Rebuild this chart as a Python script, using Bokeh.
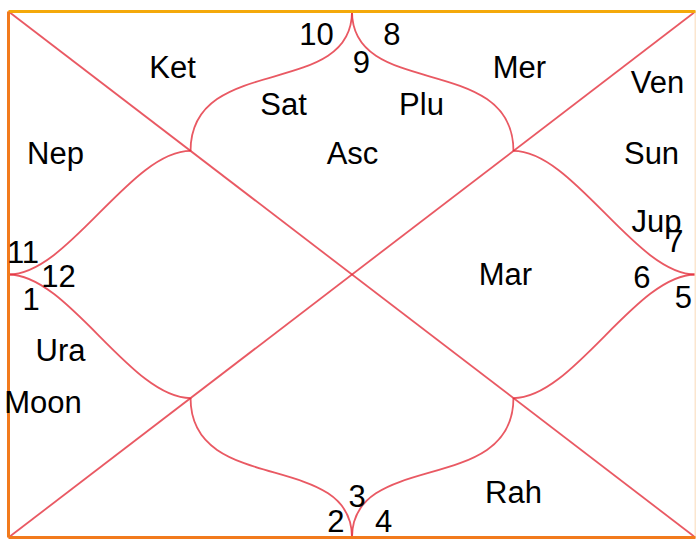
from bokeh.plotting import figure
from bokeh.models import Range1d
from bokeh.embed import file_html
from bokeh.resources import INLINE
from bokeh.core.properties import value

# ---------------- data ----------------
houses = [1, 2, 3, 4, 5, 6, 7, 8, 9, 10, 11, 12]
house_signs = [9, 10, 11, 12, 1, 2, 3, 4, 5, 6, 7, 8]
planets = ["Sat", "Plu", "Asc", "Ket", "Nep", "Ura", "Moon", "Rah", "Mar",
           "Ven", "Sun", "Jup", "Mer"]
planet_house = [1, 1, 1, 2, 3, 5, 5, 8, 10, 11, 11, 11, 12]

# ---------------- layout (fractions of chart box, v from top) ----------------
A = 0.265  # where the curved houses meet the diagonals
sign_pos = {1: (0.5138, 0.0951), 2: (0.4483, 0.0437), 3: (0.0211, 0.4580),
            4: (0.0728, 0.5038), 5: (0.0328, 0.5475), 6: (0.4767, 0.9695),
            7: (0.5073, 0.9220), 8: (0.5459, 0.9695), 9: (0.9825, 0.5437),
            10: (0.9221, 0.5051), 11: (0.9700, 0.4354), 12: (0.5582, 0.0437)}
house_slots = {1: [(0.4003, 0.1768), (0.6012, 0.1768), (0.5007, 0.2700)],
               2: [(0.2387, 0.1065)],
               3: [(0.0684, 0.2700)],
               5: [(0.0757, 0.6445), (0.0502, 0.7433)],
               8: [(0.7351, 0.9144)],
               10: [(0.7234, 0.5000)],
               11: [(0.9447, 0.1350), (0.9360, 0.2700), (0.9432, 0.3992)],
               12: [(0.7438, 0.1065)]}

FONT = "Liberation Sans"
FSIZE = "31px"
LINE = "#e3303c"

# chart box: 687 x 526 px, placed 8 px from the left and 11 px from the top
p = figure(width=696, height=539, output_backend="svg", toolbar_location=None,
           x_range=Range1d(-8 / 687, 688 / 687),
           y_range=Range1d(528 / 526, -11 / 526),
           x_axis_type=None, y_axis_type=None, min_border=0,
           background_fill_color="white", border_fill_color="white")
p.grid.visible = False
p.outline_line_color = None

# diagonals
p.segment(x0=[0, 1], y0=[0, 0], x1=[1, 0], y1=[1, 1], line_color=LINE,
          line_width=1.8, line_alpha=0.8)

# curved houses: cusp at mid-side -> diagonal point
c_top1, c_top2 = 0.167, 0.078
c_side1, c_side2 = 0.087, 0.178
bx0, by0, bx1, by1, bcx0, bcy0, bcx1, bcy1 = [], [], [], [], [], [], [], []
for cx in (0, 1):
    for cy in (0, 1):
        dx = 1 if cx == 0 else -1   # direction toward centre
        dy = 1 if cy == 0 else -1
        ex = A if cx == 0 else 1 - A
        ey = A if cy == 0 else 1 - A
        # cusp at the middle of the top / bottom side
        bx0.append(0.5); by0.append(cy)
        bcx0.append(0.5); bcy0.append(cy + dy * c_top1)
        bcx1.append(ex); bcy1.append(cy + dy * c_top2)
        bx1.append(ex); by1.append(ey)
        # cusp at the middle of the left / right side
        bx0.append(cx); by0.append(0.5)
        bcx0.append(cx + dx * c_side1); bcy0.append(0.5)
        bcx1.append(cx + dx * c_side2); bcy1.append(ey)
        bx1.append(ex); by1.append(ey)
p.bezier(x0=bx0, y0=by0, x1=bx1, y1=by1, cx0=bcx0, cy0=bcy0, cx1=bcx1,
         cy1=bcy1, line_color=LINE, line_width=1.8, line_alpha=0.8)

# frame (right edge only faintly visible in the reference)
p.segment(x0=[1], y0=[0], x1=[1], y1=[1], line_color="#fbe6cf", line_width=2)
p.segment(x0=[0], y0=[0], x1=[1], y1=[0], line_color="#f4a90a", line_width=3)
p.segment(x0=[0, 0], y0=[0, 1], x1=[0, 1], y1=[1, 1],
          line_color="#f27a1c", line_width=3)

# sign numbers
sx_, sy_, st_ = [], [], []
for h, s in zip(houses, house_signs):
    u, v = sign_pos[h]
    sx_.append(u); sy_.append(v); st_.append(str(s))
p.text(x=sx_, y=sy_, text=st_, text_font=value(FONT), text_font_size=FSIZE,
       text_align="center", text_baseline="middle", text_color="black")

# planets
used = {}
px_, py_, pt_ = [], [], []
for name, h in zip(planets, planet_house):
    i = used.get(h, 0)
    used[h] = i + 1
    u, v = house_slots[h][i]
    px_.append(u); py_.append(v); pt_.append(name)
p.text(x=px_, y=py_, text=pt_, text_font=value(FONT), text_font_size=FSIZE,
       text_align="center", text_baseline="middle", text_color="black")

open("out.html", "w").write(file_html(p, INLINE))
